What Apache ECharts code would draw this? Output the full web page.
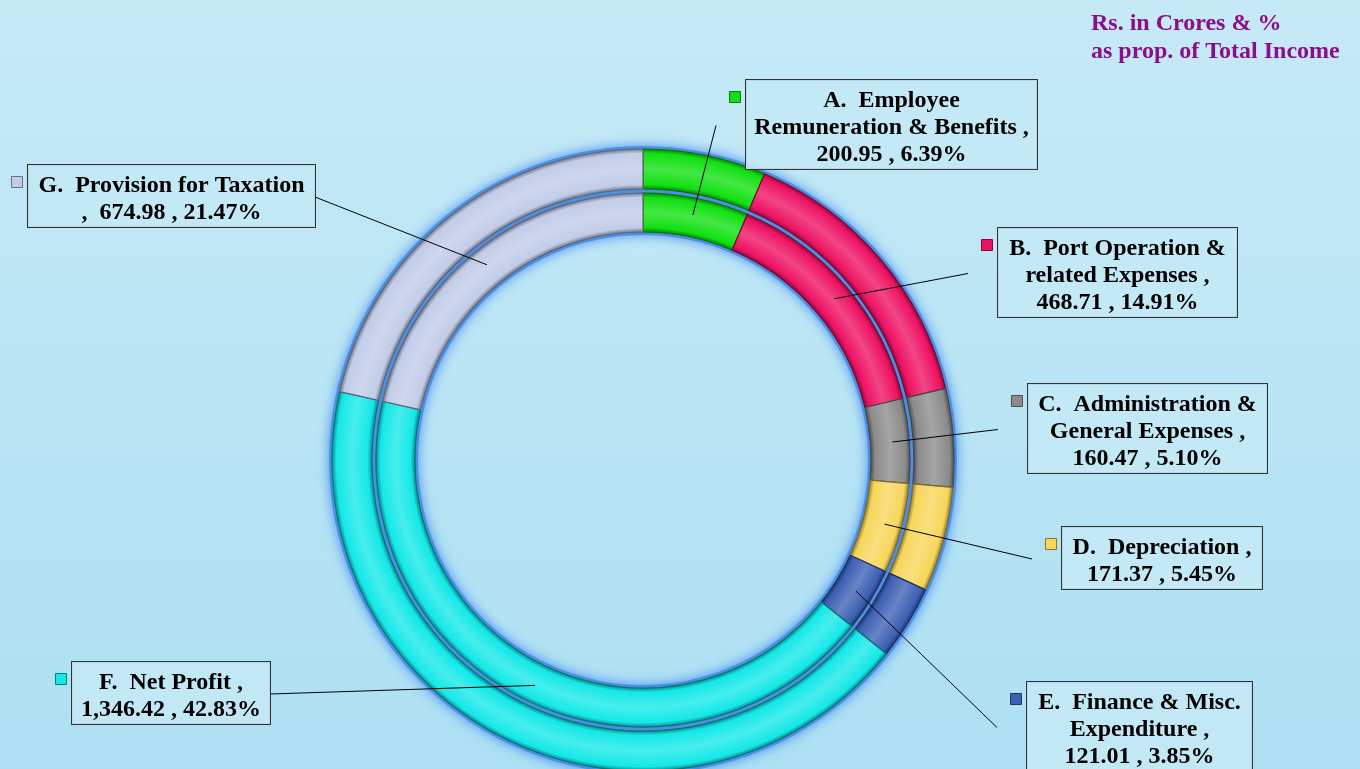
<!DOCTYPE html>
<html>
<head>
<meta charset="utf-8">
<title>Expenditure and Net Profit</title>
<script src="https://cdn.jsdelivr.net/npm/echarts@6/dist/echarts.min.js"></script>
<style>
html, body { margin: 0; padding: 0; }
#chart { width: 1360px; height: 769px; }
</style>
</head>
<body>
<div id="chart"></div>
<script>
// 类别名（含换行，和图中标签一致）
const categories = [
  'A.  Employee\nRemuneration & Benefits',
  'B.  Port Operation &\nrelated Expenses',
  'C.  Administration &\nGeneral Expenses',
  'D.  Depreciation',
  'E.  Finance & Misc.\nExpenditure',
  'F.  Net Profit',
  'G.  Provision for Taxation'
]
// 数值 (Rs. in Crores)
const values = [200.95, 468.71, 160.47, 171.37, 121.01, 1346.42, 674.98]
// 名称和数值之间的分隔
const seps = [' ,\n', ' ,\n', ' ,\n', ' ,\n', ' ,\n', ' ,\n', '\n,  ']
const colors = ['#10e010', '#ee1262', '#8b8b8b', '#f7d65a', '#3d60b5', '#14e8e8', '#c2cce8']

// 标签框位置 [left, top, width]
const boxes = [
  [746, 80, 291], [998, 228, 239], [1028, 384, 239], [1062, 527, 200],
  [1027, 682, 225], [72, 662, 198], [28, 165, 287]
]
const center = [643, 460]
const R = 311
const fontFamily = 'Liberation Serif'

const total = values.reduce((a, b) => a + b, 0)

function shade(hex, k) {
  const n = parseInt(hex.slice(1), 16)
  let rgb = [(n >> 16) & 255, (n >> 8) & 255, n & 255]
  rgb = rgb.map(c => Math.round(k < 0 ? c * (1 + k) : c + (255 - c) * k))
  return 'rgb(' + rgb.join(',') + ')'
}

// 管状渐变
function tube(c, r0, r1) {
  const a = r0 / R, b = r1 / R, m = (a + b) / 2
  return {
    type: 'radial', x: center[0], y: center[1], r: R, global: true,
    colorStops: [
      { offset: a, color: shade(c, -0.4) },
      { offset: a + 0.014, color: c },
      { offset: m, color: shade(c, 0.22) },
      { offset: b - 0.014, color: c },
      { offset: b, color: shade(c, -0.4) }
    ]
  }
}

function ring(name, r0, r1) {
  return {
    name: name,
    type: 'pie',
    center: center,
    radius: [r0, r1],
    startAngle: 90,
    silent: true,
    z: 2,
    label: { show: false },
    labelLine: { show: false },
    data: values.map((v, i) => ({
      name: categories[i],
      value: v,
      itemStyle: { color: tube(colors[i], r0, r1), borderColor: shade(colors[i], -0.5), borderWidth: 1.2 }
    }))
  }
}

const chart = echarts.init(document.getElementById('chart'))

chart.setOption({
  backgroundColor: {
    type: 'linear', x: 0, y: 0, x2: 0, y2: 1,
    colorStops: [{ offset: 0, color: '#c6e9f6' }, { offset: 1, color: '#ade0f3' }]
  },
  animation: false,
  title: {
    text: 'Rs. in Crores & %\nas prop. of Total Income',
    left: 1091,
    top: 10,
    padding: 0,
    textStyle: { color: '#8b0d8b', fontFamily: fontFamily, fontWeight: 'bold', fontSize: 24, lineHeight: 28 }
  },
  // 每个标签旁的小方块
  legend: categories.map((c, i) => ({
    data: [{ name: c, itemStyle: { color: colors[i], borderColor: shade(colors[i], -0.45), borderWidth: 1 } }],
    left: boxes[i][0] - 17,
    top: boxes[i][1] + 11,
    padding: 0,
    icon: 'rect',
    itemWidth: 11,
    itemHeight: 11,
    selectedMode: false,
    formatter: () => ''
  })),
  series: [
    {
      name: 'back',
      type: 'pie',
      center: center,
      radius: [225, 314],
      silent: true,
      z: 1,
      label: { show: false },
      labelLine: { show: false },
      itemStyle: { color: '#4b8fe4', shadowBlur: 12, shadowColor: 'rgba(40,120,240,0.8)' },
      data: [{ name: 'back', value: 1 }]
    },
    ring('inner', 228, 267),
    ring('outer', 271, 311),
    {
      name: 'labels',
      type: 'pie',
      center: center,
      radius: [0, 250],
      startAngle: 90,
      silent: true,
      z: 5,
      avoidLabelOverlap: false,
      itemStyle: { color: 'rgba(0,0,0,0)' },
      emphasis: { disabled: true },
      label: {
        show: true,
        position: 'outside',
        overflow: 'none',
        formatter: function (p) {
          const v = values[p.dataIndex].toLocaleString('en-US', { minimumFractionDigits: 2, maximumFractionDigits: 2 })
          const pct = (values[p.dataIndex] / total * 100).toFixed(2) + '%'
          return categories[p.dataIndex] + seps[p.dataIndex] + v + ' , ' + pct
        },
        color: '#000',
        fontFamily: fontFamily,
        fontWeight: 'bold',
        fontSize: 24,
        lineHeight: 27,
        backgroundColor: 'rgba(196,233,246,0.9)',
        borderColor: '#333',
        borderWidth: 1,
        padding: [7, 4, 1, 4]
      },
      labelLine: { show: true, lineStyle: { color: '#000', width: 1 } },
      labelLayout: function (p) {
        const b = boxes[p.dataIndex]
        const h = p.labelRect.height
        const start = p.labelLinePoints[0]
        const end = b[0] > center[0] ? [b[0] - 30, b[1] + h / 2] : [b[0] + b[2], b[1] + h / 2]
        return {
          x: b[0] + b[2] / 2,
          y: b[1],
          align: 'center',
          verticalAlign: 'top',
          labelLinePoints: [start, end, end]
        }
      },
      data: values.map((v, i) => ({
        name: categories[i],
        value: v,
        label: { width: boxes[i][2] - 8 }
      }))
    }
  ]
})
</script>
</body>
</html>
